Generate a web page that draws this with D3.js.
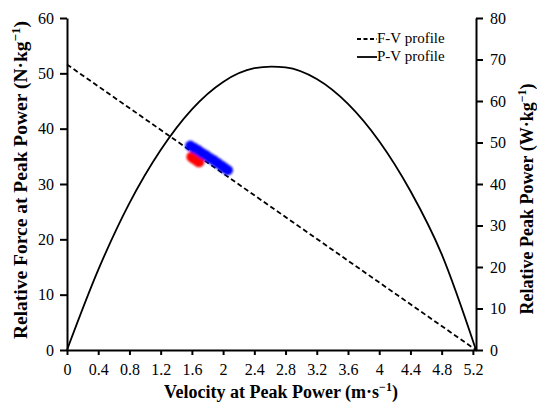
<!DOCTYPE html>
<html>
<head>
<meta charset="utf-8">
<script src="https://cdn.jsdelivr.net/npm/d3@7"></script>
<style>
  body { margin: 0; background: #fff; }
</style>
</head>
<body>
<script>
// values
var xTicks = [0, 0.4, 0.8, 1.2, 1.6, 2, 2.4, 2.8, 3.2, 3.6, 4, 4.4, 4.8, 5.2];
var forceTicks = [0, 10, 20, 30, 40, 50, 60];
var powerTicks = [0, 10, 20, 30, 40, 50, 60, 70, 80];

// F-V profile (straight line, intercepts)
var fvVelocity = [0, 5.24];
var fvForce = [51.6, 0];

// P-V profile (W/kg), read at these velocities
var pvVelocity = [0, 0.4, 0.8, 1.2, 1.6, 2.0, 2.4, 2.62, 2.8, 3.2, 3.6, 4.0, 4.4, 4.8, 5.24];
var pvPower = [0, 19.3, 35.4, 48.2, 58.0, 64.6, 67.9, 68.3, 68.1, 65.3, 59.3, 50.3, 38.3, 23.1, 0];

// measured points (force at peak power)
var blueVelocity = [1.58, 1.63, 1.68, 1.73, 1.78, 1.83, 1.88, 1.93, 1.98, 2.02, 2.06];
var blueForce = [36.9, 36.5, 36.1, 35.6, 35.2, 34.7, 34.3, 33.8, 33.3, 32.9, 32.5];
var redVelocity = [1.60, 1.63, 1.66, 1.69];
var redForce = [34.9, 34.6, 34.3, 34.0];

var width = 537, height = 402;
var serif = "'Liberation Serif', 'DejaVu Serif', serif";
var x = d3.scaleLinear().domain([0, 5.24]).range([67, 476]);
var yF = d3.scaleLinear().domain([0, 60]).range([350, 18]);
var yP = d3.scaleLinear().domain([0, 80]).range([350, 18]);

var svg = d3.select("body").append("svg")
    .attr("width", width).attr("height", height)
    .attr("font-family", serif);

var defs = svg.append("defs");
defs.append("filter").attr("id", "blur")
    .attr("x", "-50%").attr("y", "-50%").attr("width", "200%").attr("height", "200%")
  .append("feGaussianBlur").attr("stdDeviation", 1.1);

// axes
function styleAxis(g) {
    g.attr("font-family", serif).attr("font-size", 16);
    g.selectAll(".domain").attr("stroke", "#000").attr("stroke-width", 2);
    g.selectAll(".tick line").attr("stroke", "#000").attr("stroke-width", 2);
    g.selectAll(".tick text").attr("fill", "#000");
}

svg.append("g")
    .attr("transform", "translate(0,350)")
    .call(d3.axisBottom(x).tickValues(xTicks).tickSize(5).tickSizeOuter(0).tickPadding(9)
        .tickFormat(d3.format("~g")))
    .call(styleAxis);

svg.append("g")
    .attr("transform", "translate(67,0)")
    .call(d3.axisLeft(yF).tickValues(forceTicks).tickSize(7).tickSizeOuter(0).tickPadding(6))
    .call(styleAxis);

svg.append("g")
    .attr("transform", "translate(476,0)")
    .call(d3.axisRight(yP).tickValues(powerTicks).tickSize(7).tickSizeOuter(0).tickPadding(7))
    .call(styleAxis);

// curves
var pv = pvVelocity.map(function(v, i) { return [v, pvPower[i]]; });
svg.append("path")
    .attr("d", d3.line().x(function(d) { return x(d[0]); }).y(function(d) { return yP(d[1]); })
        .curve(d3.curveMonotoneX)(pv))
    .attr("fill", "none").attr("stroke", "#000").attr("stroke-width", 1.8);

var fv = fvVelocity.map(function(v, i) { return [v, fvForce[i]]; });
svg.append("path")
    .attr("d", d3.line().x(function(d) { return x(d[0]); }).y(function(d) { return yF(d[1]); })(fv))
    .attr("fill", "none").attr("stroke", "#000").attr("stroke-width", 1.8)
    .attr("stroke-dasharray", "5,3");

// points
var pts = svg.append("g").attr("filter", "url(#blur)");
pts.selectAll(".red").data(redVelocity).enter().append("circle")
    .attr("cx", function(d) { return x(d); })
    .attr("cy", function(d, i) { return yF(redForce[i]); })
    .attr("r", 5.5).attr("fill", "#ff0000");
pts.selectAll(".blue").data(blueVelocity).enter().append("circle")
    .attr("cx", function(d) { return x(d); })
    .attr("cy", function(d, i) { return yF(blueForce[i]); })
    .attr("r", 5.2).attr("fill", "#0000ff");

// legend
var legend = [["F-V profile", "4,2.5"], ["P-V profile", null]];
legend.forEach(function(l, i) {
    var ly = 43 + i * 18;
    svg.append("line").attr("x1", 357).attr("x2", 377).attr("y1", ly - 4).attr("y2", ly - 4)
        .attr("stroke", "#000").attr("stroke-width", 1.8)
        .attr("stroke-dasharray", l[1]);
    svg.append("text").attr("x", 377).attr("y", ly).attr("font-size", 15).text(l[0]);
});

// axis titles
svg.append("text")
    .attr("transform", "translate(27,180) rotate(-90)")
    .attr("text-anchor", "middle").attr("font-size", 19.5).attr("font-weight", "bold")
    .html("Relative Force at Peak Power (N·kg<tspan dy='-7' font-size='13'>−1</tspan><tspan dy='7'>)</tspan>");

svg.append("text")
    .attr("transform", "translate(533,199) rotate(-90)")
    .attr("text-anchor", "middle").attr("font-size", 18).attr("font-weight", "bold")
    .html("Relative Peak Power (W·kg<tspan dy='-7' font-size='12'>−1</tspan><tspan dy='7'>)</tspan>");

svg.append("text")
    .attr("x", 281).attr("y", 398)
    .attr("text-anchor", "middle").attr("font-size", 18).attr("font-weight", "bold")
    .html("Velocity at Peak Power (m·s<tspan dy='-7' font-size='12'>−1</tspan><tspan dy='7'>)</tspan>");
</script>
</body>
</html>
